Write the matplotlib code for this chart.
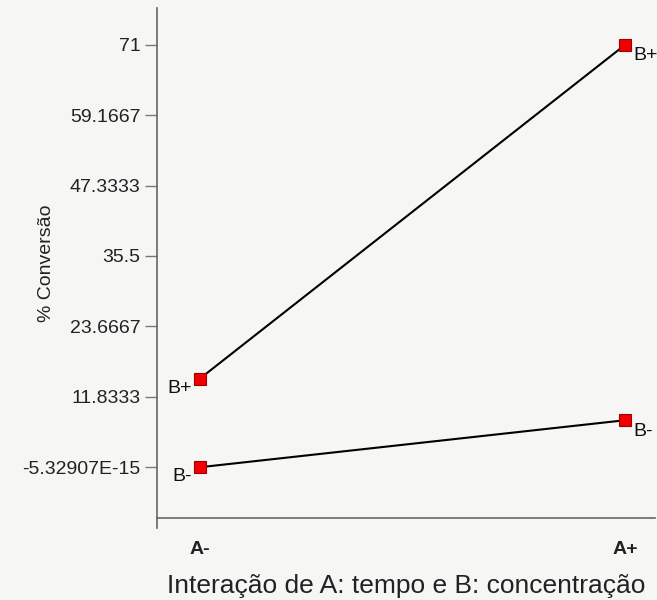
import numpy as np
import matplotlib.pyplot as plt

plt.rcParams['font.family'] = ['Liberation Sans', 'DejaVu Sans']

# levels of factor A
a_levels = ['A-', 'A+']
# % conversion for B+ and B- at A- / A+
b_plus = [14.9, 71.0]
b_minus = [0.0, 7.9]
y_ticks = [-5.32907e-15, 11.8333, 23.6667, 35.5, 47.3333, 59.1667, 71.0]
y_tick_labels = ['-5.32907E-15', '11.8333', '23.6667', '35.5', '47.3333', '59.1667', '71']

bg = '#f6f6f5'
fig = plt.figure(figsize=(6.57, 6.0), dpi=100, facecolor=bg)
ax = fig.add_axes([0.239, 0.137, 0.758, 0.850], facecolor=bg)

x = np.arange(len(a_levels))
for vals, name in [(b_plus, 'B+'), (b_minus, 'B-')]:
    ax.plot(x, vals, color='black', lw=1.5, marker='s', markersize=8,
            markerfacecolor='#f00000', markeredgecolor='#a00000', markeredgewidth=0.8)
    # labels next to the end points
    ax.annotate(name, (x[0], vals[0]), xytext=(-6, -7), textcoords='offset points',
                ha='right', va='center', fontsize=14, color='#111111')
    ax.annotate(name, (x[-1], vals[-1]), xytext=(6, -8), textcoords='offset points',
                ha='left', va='center', fontsize=14, color='#111111')

ax.set_xlim(-0.101, 1.07)
ax.set_ylim(-8.5, 77.2)

ax.set_yticks(y_ticks)
ax.set_yticklabels(y_tick_labels, fontsize=14, color='#222222')
ax.set_xticks(x)
ax.set_xticklabels(a_levels, fontsize=14, fontweight='bold', color='#222222')
ax.tick_params(axis='y', direction='out', length=9, width=1, color='#777777', pad=3)
ax.tick_params(axis='x', length=0, pad=17)

for s in ['top', 'right']:
    ax.spines[s].set_visible(False)
ax.spines['left'].set_color('#666666')
ax.spines['bottom'].set_color('#666666')
ax.spines['left'].set_linewidth(1.2)
ax.spines['bottom'].set_linewidth(1.2)
# y axis line runs a little below the x axis
ax.plot([0, 0], [-0.02, 0], transform=ax.transAxes, color='#666666', lw=1.2, clip_on=False)

ax.set_ylabel('% Conversão', fontsize=14, color='#222222')
ax.yaxis.set_label_coords(-0.205, 0.5)
ax.set_xlabel('Interação de A: tempo e B: concentração', fontsize=19, color='#222222', labelpad=11)

fig.savefig('out.png', dpi=100, facecolor=bg)
